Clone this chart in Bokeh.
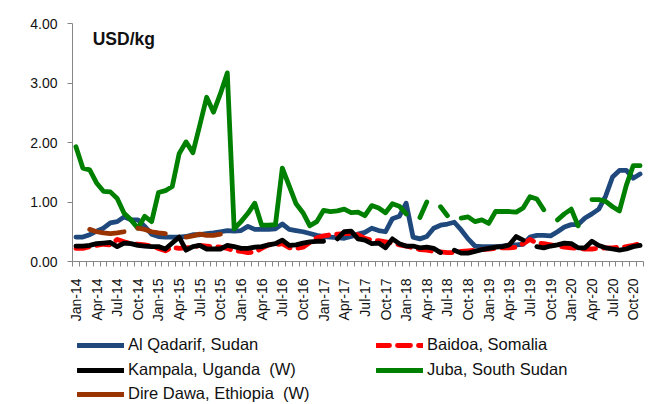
from math import pi
from bokeh.plotting import figure
from bokeh.layouts import column
from bokeh.models import (Range1d, FixedTicker, PrintfTickFormatter, Legend, LegendItem, Label)
from bokeh.embed import file_html
from bokeh.resources import INLINE

nan = float("nan")

# Monthly index 0..82 = Jan-14 .. Nov-20
TICK_LABELS = ["Jan-14", "Apr-14", "Jul-14", "Oct-14", "Jan-15", "Apr-15", "Jul-15", "Oct-15",
               "Jan-16", "Apr-16", "Jul-16", "Oct-16", "Jan-17", "Apr-17", "Jul-17", "Oct-17",
               "Jan-18", "Apr-18", "Jul-18", "Oct-18", "Jan-19", "Apr-19", "Jul-19", "Oct-19",
               "Jan-20", "Apr-20", "Jul-20", "Oct-20"]
N_MONTHS = 83

al_qadarif = [0.41, 0.41, 0.45, 0.51, 0.56, 0.65, 0.67, 0.75, 0.70, 0.70, 0.59, 0.46, 0.42, 0.41, 0.41, 0.41,
              0.42, 0.45, 0.45, 0.47, 0.48, 0.50, 0.52, 0.51, 0.52, 0.59, 0.54, 0.54, 0.54, 0.55, 0.63, 0.54,
              0.52, 0.50, 0.47, 0.44, 0.42, 0.41, 0.40, 0.39, 0.42, 0.46, 0.49, 0.56, 0.52, 0.50, 0.72, 0.76,
              0.98, 0.41, 0.38, 0.42, 0.56, 0.61, 0.63, 0.66, 0.53, 0.38, 0.26, 0.25, 0.25, 0.25, 0.26, 0.27,
              0.28, 0.29, 0.41, 0.44, 0.44, 0.43, 0.50, 0.58, 0.62, 0.62, 0.73, 0.80, 0.88, 1.10, 1.42, 1.53,
              1.53, 1.40, 1.47]

baidoa = [0.22, 0.22, 0.25, 0.27, 0.29, 0.28, 0.37, 0.33, 0.30, 0.29, 0.28, 0.26, 0.22, 0.18, 0.24, 0.22,
          0.23, 0.24, 0.27, 0.26, 0.25, 0.24, 0.22, 0.18, 0.17, 0.15, 0.16, 0.22, 0.28, 0.28, 0.30, 0.23,
          0.22, 0.24, 0.32, 0.40, 0.43, 0.45, 0.46, 0.47, 0.47, 0.45, 0.39, 0.36, 0.35, 0.33, 0.31, 0.28,
          0.26, 0.23, 0.20, 0.19, 0.17, 0.16, 0.15, 0.15, 0.17, 0.18, 0.19, 0.20, 0.21, 0.22, 0.23, 0.23,
          0.24, 0.30, 0.37, 0.31, 0.30, 0.28, 0.26, 0.24, 0.23, 0.22, 0.21, 0.21, 0.22, 0.23, 0.23, 0.24,
          0.25, 0.27, 0.30]

kampala = [0.26, 0.26, 0.27, 0.30, 0.31, 0.32, 0.25, 0.31, 0.30, 0.27, 0.26, 0.25, 0.25, 0.21, 0.31, 0.41,
           0.19, 0.25, 0.27, 0.21, 0.21, 0.21, 0.27, 0.25, 0.22, 0.22, 0.24, 0.25, 0.28, 0.30, 0.36, 0.27,
           0.28, 0.31, 0.33, 0.34, 0.34, nan, 0.38, 0.50, 0.51, 0.38, 0.36, 0.30, 0.31, 0.23, 0.38, 0.30,
           0.26, 0.26, 0.23, 0.24, 0.22, 0.15, nan, 0.19, 0.14, 0.14, 0.17, 0.20, 0.22, 0.24, 0.25, 0.28,
           0.42, 0.36, nan, 0.25, 0.23, 0.26, 0.28, 0.31, 0.30, 0.23, 0.23, 0.34, 0.27, 0.23, 0.21, 0.19,
           0.21, 0.25, 0.27]

juba = [1.93, 1.57, 1.54, 1.32, 1.18, 1.17, 1.06, 0.81, 0.70, 0.56, 0.76, 0.67, 1.16, 1.19, 1.26, 1.81,
        2.01, 1.83, 2.29, 2.76, 2.51, 2.82, 3.17, 0.55, 0.67, 0.81, 0.98, 0.61, 0.61, 0.62, 1.57, 1.27,
        0.97, 0.82, 0.60, 0.67, 0.86, 0.84, 0.85, 0.88, 0.82, 0.83, 0.77, 0.94, 0.90, 0.82, 0.97, 0.93,
        0.80, nan, 0.74, 1.00, nan, 0.92, 0.77, nan, 0.73, 0.75, 0.67, 0.70, 0.64, 0.84, 0.84, 0.84,
        0.83, 0.90, 1.09, 1.05, 0.87, nan, 0.70, 0.80, 0.88, 0.60, nan, 1.04, 1.04, 1.01, 0.92, 0.85,
        1.28, 1.61, 1.61]

dire_dawa = [nan, nan, 0.54, 0.50, 0.48, 0.47, 0.48, 0.50, nan, 0.56, 0.54, 0.50, 0.48, 0.47, nan, nan,
             0.41, 0.43, 0.46, 0.44, 0.44, 0.46] + [nan] * 61

SERIES = [
    ("Al Qadarif, Sudan", al_qadarif, "#1F497D", None),
    ("Baidoa, Somalia", baidoa, "#FF0000", "13 8"),
    ("Kampala, Uganda  (W)", kampala, "#000000", None),
    ("Juba, South Sudan", juba, "#008000", None),
    ("Dire Dawa, Ethiopia  (W)", dire_dawa, "#993300", None),
]

x = list(range(N_MONTHS))
tick_pos = list(range(0, N_MONTHS, 3))

FONT = "Liberation Sans"
AXIS_GREY = "#868686"
TEXT = "#111111"
LW = 4.8
WIDTH = 646


def style(color, dash):
    kw = dict(line_color=color, line_width=LW, line_join="round", line_cap="round")
    if dash:
        kw["line_dash"] = dash
    return kw


# ---------------- main chart ----------------
p = figure(width=WIDTH, height=324, title=None,
           x_range=Range1d(-0.5, N_MONTHS - 0.5), y_range=Range1d(0, 4),
           output_backend="svg", toolbar_location=None,
           min_border_left=72, min_border_right=3, min_border_top=23, min_border_bottom=58)
p.xgrid.visible = False
p.ygrid.visible = False
p.outline_line_color = None

xa = p.xaxis[0]
xa.ticker = FixedTicker(ticks=tick_pos, minor_ticks=[i - 0.5 for i in range(N_MONTHS + 1)])
xa.major_label_overrides = {t: lab for t, lab in zip(tick_pos, TICK_LABELS)}
xa.major_label_orientation = pi / 2
xa.major_tick_out = 0
xa.major_tick_in = 0
xa.minor_tick_out = 5
xa.minor_tick_in = 0
xa.minor_tick_line_color = AXIS_GREY
xa.axis_line_color = AXIS_GREY
xa.major_label_standoff = 12
xa.major_label_text_font = FONT
xa.major_label_text_font_size = "14px"
xa.major_label_text_color = TEXT

ya = p.yaxis[0]
ya.ticker = FixedTicker(ticks=[0, 1, 2, 3, 4], minor_ticks=[])
ya.formatter = PrintfTickFormatter(format="%.2f")
ya.major_tick_out = 5
ya.major_tick_in = 0
ya.minor_tick_out = 0
ya.minor_tick_in = 0
ya.major_tick_line_color = AXIS_GREY
ya.axis_line_color = AXIS_GREY
ya.major_label_standoff = 10
ya.major_label_text_font = FONT
ya.major_label_text_font_size = "14px"
ya.major_label_text_color = TEXT

for name, vals, color, dash in SERIES:
    p.line(x, vals, **style(color, dash))

p.add_layout(Label(x=2.44, y=3.74, text="USD/kg", text_font=FONT, text_font_style="bold",
                   text_font_size="17.5px", text_baseline="middle", text_color=TEXT))

# ---------------- legend strip (frame aligned with the chart frame) ----------------
q = figure(width=WIDTH, height=80, title=None, x_range=Range1d(-0.5, N_MONTHS - 0.5),
           y_range=Range1d(10, 11),  # series drawn out of view; only their legend glyphs show
           output_backend="svg", toolbar_location=None, x_axis_type=None, y_axis_type=None,
           min_border_left=72, min_border_right=3, min_border_top=0, min_border_bottom=0)
q.xgrid.visible = False
q.ygrid.visible = False
q.outline_line_color = None

# (column x offset, row bottom offset) in screen px within the strip
POS = [(5, 50), (304, 50), (5, 25), (304, 25), (5, 1)]
for (name, vals, color, dash), (vx, vy) in zip(SERIES, POS):
    r = q.line(x, vals, **style(color, dash))
    lg = Legend(items=[LegendItem(label=name, renderers=[r])], location=(vx, vy),
                orientation="vertical", glyph_width=47, glyph_height=18, label_height=18,
                label_standoff=4, label_text_font=FONT, label_text_font_size="16.5px",
                label_text_color=TEXT, padding=0, margin=0, spacing=0,
                border_line_alpha=0, background_fill_alpha=0)
    q.add_layout(lg)

layout = column(p, q, spacing=0)
open("out.html", "w").write(file_html(layout, INLINE))
